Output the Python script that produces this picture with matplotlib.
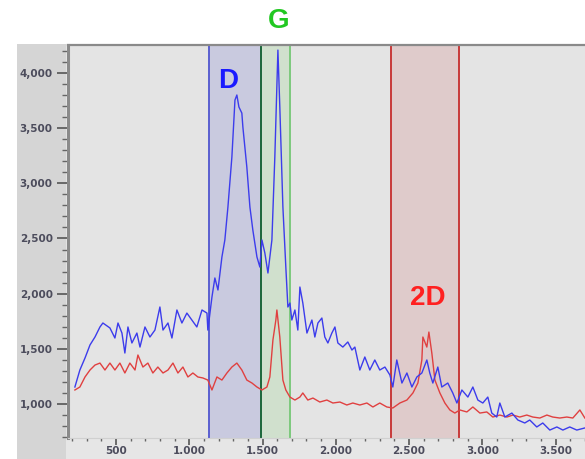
import matplotlib
matplotlib.use("Agg")
import matplotlib.pyplot as plt
from matplotlib.patches import Rectangle
from matplotlib.ticker import FuncFormatter, MultipleLocator

# Raman shift (cm^-1) and intensity, sample A (blue)
blue_x = [220, 254, 289, 323, 357, 391, 411, 459, 493, 514, 541, 561, 582, 609, 643,
          664, 698, 732, 766, 800, 821, 855, 882, 916, 950, 984, 1018, 1052, 1087, 1121,
          1127, 1155, 1175, 1196, 1223, 1243, 1264, 1291, 1312, 1325, 1339, 1359, 1366,
          1393, 1414, 1434, 1462, 1482, 1496, 1516, 1537, 1564, 1584, 1605, 1618, 1639,
          1659, 1673, 1687, 1700, 1721, 1741, 1755, 1775, 1803, 1837, 1857, 1878, 1905,
          1925, 1946, 1973, 1994, 2014, 2048, 2082, 2110, 2130, 2164, 2198, 2232, 2266,
          2300, 2335, 2369, 2389, 2416, 2451, 2485, 2519, 2553, 2587, 2621, 2641, 2662,
          2696, 2723, 2764, 2798, 2826, 2860, 2901, 2935, 2969, 3003, 3037, 3064, 3098,
          3119, 3153, 3201, 3242, 3289, 3323, 3371, 3412, 3460, 3508, 3549, 3596, 3644,
          3699]
blue_y = [1154, 1308, 1417, 1535, 1607, 1698, 1734, 1689, 1598, 1734, 1643, 1462, 1698,
          1553, 1643, 1516, 1698, 1607, 1670, 1879, 1670, 1734, 1598, 1852, 1734, 1824,
          1761, 1698, 1852, 1824, 1670, 1969, 2142, 2033, 2332, 2486, 2785, 3238, 3754,
          3800, 3691, 3636, 3510, 3147, 2785, 2576, 2332, 2241, 2486, 2368, 2187, 2486,
          3238, 4207, 3691, 2785, 2241, 1879, 1915, 1761, 1852, 1670, 2060, 1915, 1643,
          1761, 1607, 1734, 1779, 1607, 1553, 1643, 1698, 1553, 1516, 1562, 1489, 1516,
          1308, 1426, 1308, 1399, 1308, 1335, 1263, 1154, 1399, 1190, 1281, 1154, 1245,
          1281, 1399, 1281, 1190, 1335, 1154, 1190, 1100, 1009, 1127, 1063, 1154, 1036,
          1009, 1063, 918, 882, 1009, 882, 918, 855, 828, 855, 792, 828, 764, 792, 764,
          792, 764, 783]

# Raman shift (cm^-1) and intensity, sample B (red)
red_x = [220, 254, 289, 323, 357, 391, 425, 459, 493, 527, 561, 595, 630, 650, 684, 718,
         752, 786, 821, 855, 889, 923, 957, 991, 1025, 1059, 1093, 1127, 1155, 1189, 1223,
         1257, 1291, 1325, 1359, 1393, 1428, 1462, 1496, 1530, 1550, 1571, 1591, 1598,
         1618, 1639, 1659, 1687, 1721, 1755, 1775, 1809, 1844, 1891, 1939, 1980, 2028,
         2075, 2116, 2164, 2212, 2253, 2300, 2348, 2389, 2437, 2485, 2526, 2560, 2587,
         2594, 2621, 2635, 2655, 2676, 2710, 2744, 2778, 2812, 2846, 2894, 2935, 2983,
         3030, 3071, 3119, 3167, 3208, 3255, 3303, 3344, 3392, 3440, 3480, 3528, 3576,
         3617, 3665, 3699]
red_y = [1127, 1154, 1245, 1308, 1353, 1371, 1308, 1371, 1308, 1371, 1281, 1371, 1308,
         1444, 1335, 1371, 1281, 1335, 1281, 1308, 1371, 1281, 1335, 1245, 1281, 1245,
         1236, 1217, 1127, 1245, 1217, 1281, 1335, 1371, 1308, 1217, 1190, 1154, 1127,
         1154, 1245, 1580, 1761, 1852, 1607, 1217, 1127, 1063, 1036, 1063, 1100, 1036,
         1054, 1018, 1036, 1009, 1018, 991, 1009, 991, 1009, 973, 1009, 973, 964, 1009,
         1036, 1100, 1190, 1399, 1607, 1516, 1652, 1462, 1217, 1100, 1009, 946, 918, 946,
         928, 973, 918, 928, 882, 900, 882, 900, 882, 900, 882, 873, 900, 882, 873, 882,
         873, 946, 873]

# Highlighted band ranges (cm^-1) and their labels
band_names = ["D", "G", "2D"]
band_lo = [1134, 1490, 2376]
band_hi = [1490, 1687, 2840]

y_ticks = [1000, 1500, 2000, 2500, 3000, 3500, 4000]
x_ticks = [500, 1000, 1500, 2000, 2500, 3000, 3500]

W, H = 585, 459
fig = plt.figure(figsize=(W / 100, H / 100), dpi=100)
fig.patch.set_facecolor("white")

# window panels behind the plot
fig.patches.append(Rectangle((17 / W, 0), (W - 17) / W, 1 - 44 / H,
                             transform=fig.transFigure, facecolor="#e6e6e6",
                             edgecolor="none", zorder=-2))
fig.patches.append(Rectangle((17 / W, 0), (66 - 17) / W, 1 - 44 / H,
                             transform=fig.transFigure, facecolor="#d5d5d5",
                             edgecolor="none", zorder=-1))

left, right = 68 / W, 1.0
bottom, top = 1 - 438 / H, 1 - 45 / H
ax = fig.add_axes([left, bottom, right - left, top - bottom])
ax.set_facecolor("#e4e4e4")
ax.set_xlim(173, 3700)
ax.set_ylim(692, 4253)

# bands
fills = ["#c9cadf", "#d0e0cd", "#dfcbcb"]
edges_l = ["#5a5fd0", "#1f6a3a", "#c83a3a"]
edges_r = ["#5a5fd0", "#7cc97c", "#c83a3a"]
for lo, hi, fc, el, er in zip(band_lo, band_hi, fills, edges_l, edges_r):
    ax.axvspan(lo, hi, facecolor=fc, edgecolor="none", zorder=1)
    ax.axvline(lo, color=el, lw=1.4, zorder=2)
    ax.axvline(hi, color=er, lw=1.4, zorder=2)

ax.plot(red_x, red_y, color="#e04040", lw=1.0, zorder=3)
ax.plot(blue_x, blue_y, color="#3c3cec", lw=1.0, zorder=4)

# band labels
lab_font = dict(family="Liberation Sans", weight="bold", fontsize=20)
ax.text(1262, 3930, band_names[0], color="#1a1aff", ha="center", va="center",
        zorder=5, **lab_font)
fig.text(279 / W, 1 - 21 / H, band_names[1], color="#22c822", ha="center",
         va="center", **lab_font)
ax.text(2630, 1960, band_names[2], color="#ff2020", ha="center", va="center",
        zorder=5, **lab_font)

# axes styling
ax.spines["right"].set_visible(False)
ax.spines["top"].set_color("#8a8a8a")
ax.spines["top"].set_linewidth(1.6)
ax.spines["left"].set_color("#8a8a8a")
ax.spines["left"].set_linewidth(2.2)
ax.spines["bottom"].set_color("#d0d0d0")
ax.spines["bottom"].set_linewidth(0.8)

ax.set_yticks(y_ticks)
ax.yaxis.set_minor_locator(MultipleLocator(100))
ax.set_xticks(x_ticks)
ax.xaxis.set_minor_locator(MultipleLocator(100))
ax.yaxis.set_major_formatter(FuncFormatter(lambda v, p: f"{int(v):,}"))
ax.xaxis.set_major_formatter(FuncFormatter(lambda v, p: f"{int(v):,}".replace(",", ".")))

tick_col = "#4c4c5c"
ax.tick_params(axis="y", which="major", direction="out", length=8, width=1.2,
               color="#555555", labelsize=7.5, labelcolor=tick_col, pad=3)
ax.tick_params(axis="y", which="minor", direction="out", length=4, width=1,
               color="#666666")
ax.tick_params(axis="x", which="major", direction="out", length=5, width=1.2,
               color="#555555", labelsize=7.5, labelcolor=tick_col, pad=1)
ax.tick_params(axis="x", which="minor", direction="out", length=2.5, width=1,
               color="#666666")
for lbl in ax.get_xticklabels() + ax.get_yticklabels():
    lbl.set_fontweight("bold")

fig.savefig("out.png", dpi=100)
